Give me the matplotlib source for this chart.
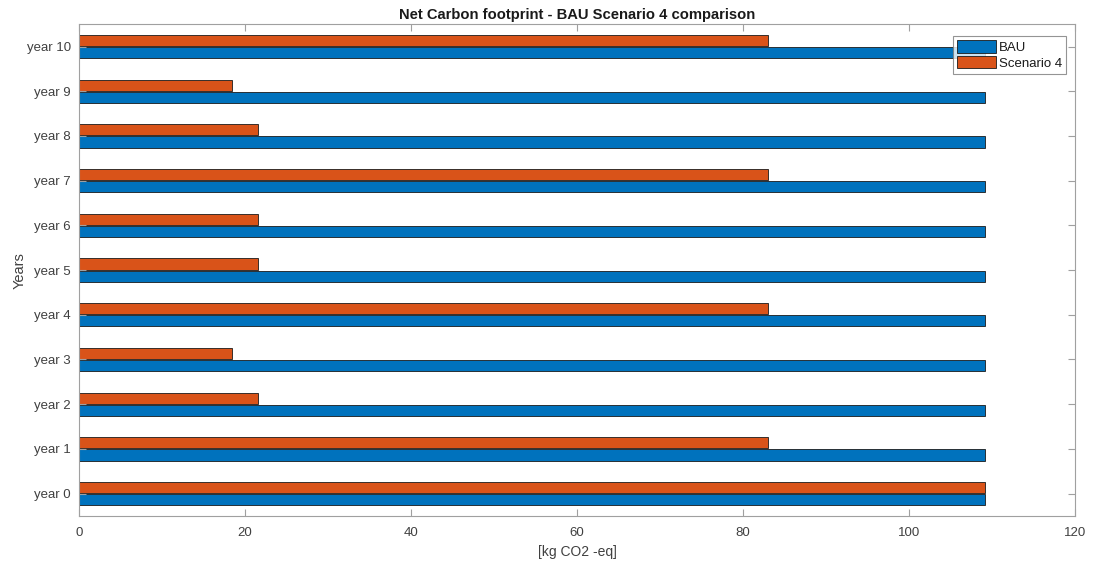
import numpy as np
import matplotlib
matplotlib.use("Agg")
import matplotlib.pyplot as plt

plt.rcParams['font.family'] = ['Liberation Sans', 'DejaVu Sans']

years = ["year 0", "year 1", "year 2", "year 3", "year 4", "year 5",
         "year 6", "year 7", "year 8", "year 9", "year 10"]
bau = [109.2, 109.2, 109.2, 109.2, 109.2, 109.2, 109.2, 109.2, 109.2, 109.2, 109.2]
scenario4 = [109.2, 83.0, 21.6, 18.4, 83.0, 21.6, 21.6, 83.0, 21.6, 18.4, 83.0]
x_ticks = [0, 20, 40, 60, 80, 100, 120]

blue = "#0072BD"
orange = "#D95319"
axis_col = "#A0A0A0"
text_col = "#404040"

fig = plt.figure(figsize=(10.94, 5.62), dpi=100)
ax = fig.add_axes([0.0722, 0.0819, 0.9104, 0.8751])

y = np.arange(len(years))
h = 0.25
ax.barh(y - h / 2 - 0.01, bau, height=h, color=blue, edgecolor="#1a1a1a",
        linewidth=0.6, label="BAU")
ax.barh(y + h / 2 + 0.01, scenario4, height=h, color=orange, edgecolor="#1a1a1a",
        linewidth=0.6, label="Scenario 4")

ax.set_xlim(0, 120)
ax.set_ylim(-0.5, 10.5)
ax.set_xticks(x_ticks)
ax.set_yticks(y)
ax.set_yticklabels(years)

for s in ax.spines.values():
    s.set_color(axis_col)
    s.set_linewidth(0.8)

ax.tick_params(axis="both", direction="in", length=5, color=axis_col,
               labelcolor=text_col, labelsize=9.5, top=True, right=True, width=0.8)
ax.tick_params(axis="x", pad=8)
ax.tick_params(axis="y", pad=6)

ax.set_title("Net Carbon footprint - BAU Scenario 4 comparison",
             fontsize=10.6, fontweight="bold", color="#1a1a1a", pad=4)
ax.set_xlabel("[kg CO2 -eq]", fontsize=10, color=text_col, labelpad=4)
ax.set_ylabel("Years", fontsize=10.5, color=text_col, labelpad=0)

leg = ax.legend(loc="upper right", bbox_to_anchor=(0.991, 0.976), fontsize=9.5,
                frameon=True, fancybox=False, borderpad=0.3, handlelength=3.0,
                handleheight=1.1, handletextpad=0.2, labelspacing=0.15,
                borderaxespad=0)
leg.get_frame().set_edgecolor("#7a7a7a")
leg.get_frame().set_linewidth(0.8)
for t in leg.get_texts():
    t.set_color("#1a1a1a")

fig.savefig("out.png", dpi=100)
